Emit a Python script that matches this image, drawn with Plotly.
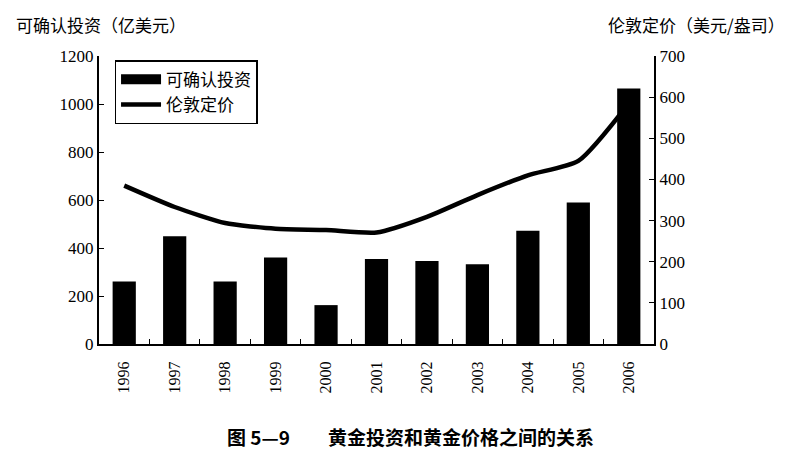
import plotly.graph_objects as go

years = ["1996", "1997", "1998", "1999", "2000", "2001", "2002", "2003", "2004", "2005", "2006"]
investment = [260, 449, 260, 360, 162, 354, 346, 332, 472, 590, 1065]
london_price = [385, 333, 294, 280, 277, 271, 309, 362, 410, 445, 585]

serif = "Liberation Serif"
cjk = "Noto Sans CJK SC"

fig = go.Figure()
fig.add_trace(go.Bar(
    x=years, y=investment, name="可确认投资", showlegend=False,
    marker=dict(color="black", line=dict(width=0)),
    width=0.46,
))
# legend-only entry so the bar key looks like a wide block, as in the original
fig.add_trace(go.Scatter(
    x=[years[0]], y=[None], name="可确认投资", mode="lines",
    line=dict(color="black", width=11),
))
fig.add_trace(go.Scatter(
    x=years, y=london_price, name="伦敦定价", yaxis="y2",
    mode="lines", line=dict(color="black", width=4.5, shape="spline", smoothing=0.6),
))

fig.update_layout(
    width=791, height=456,
    margin=dict(l=91, r=145, t=48, b=120),
    paper_bgcolor="white", plot_bgcolor="white",
    showlegend=True,
    legend=dict(
        x=0.028, y=0.985, xanchor="left", yanchor="top",
        bordercolor="black", borderwidth=1.5, bgcolor="white",
        font=dict(family=cjk, size=17, color="black"),
        itemwidth=40, tracegroupgap=0,
    ),
    xaxis=dict(
        type="category", showline=True, linecolor="black", linewidth=2,
        ticks="inside", tickson="boundaries", ticklen=5, tickcolor="black",
        tickangle=-90, tickfont=dict(family=serif, size=16, color="black"),
        ticklabelstandoff=9, showgrid=False, automargin=False,
    ),
    yaxis=dict(
        range=[0, 1200], dtick=200, showline=True, linecolor="black", linewidth=2,
        ticks="inside", ticklen=5, tickcolor="black", showgrid=False, zeroline=False,
        tickfont=dict(family=serif, size=17, color="black"), automargin=False,
    ),
    yaxis2=dict(
        range=[0, 700], dtick=100, overlaying="y", side="right",
        showline=True, linecolor="black", linewidth=2,
        ticks="inside", ticklen=5, tickcolor="black", showgrid=False, zeroline=False,
        tickfont=dict(family=serif, size=17, color="black"), automargin=False,
    ),
    annotations=[
        dict(text="可确认投资（亿美元）", xref="paper", yref="paper", x=-0.153, y=1.11,
             xanchor="left", yanchor="middle", showarrow=False,
             font=dict(family=cjk, size=17, color="black")),
        dict(text="伦敦定价（美元/盎司）", xref="paper", yref="paper", x=1.24, y=1.11,
             xanchor="right", yanchor="middle", showarrow=False,
             font=dict(family=cjk, size=17, color="black")),
        dict(text="<b>图 5—9　　黄金投资和黄金价格之间的关系</b>", xref="paper", yref="paper",
             x=0.562, y=-0.32, xanchor="center", yanchor="middle", showarrow=False,
             font=dict(family=cjk, size=19, color="black")),
    ],
)

fig.write_html("out.html")
